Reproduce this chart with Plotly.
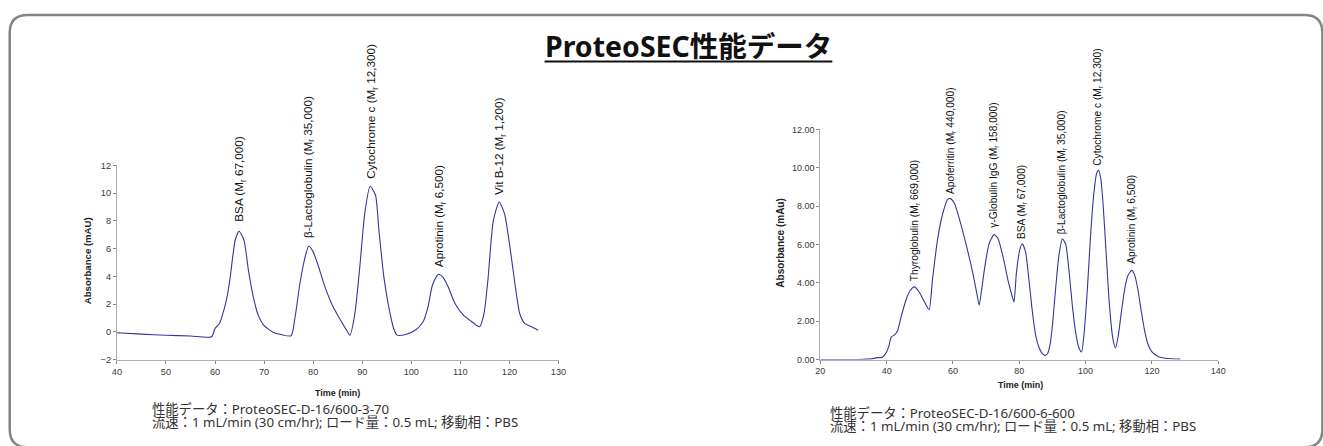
import plotly.graph_objects as go

W, H = 1323, 446

# ---------------- data ----------------
A_TIME = [40, 45, 50, 55, 59.3, 60.0, 60.9, 61.8, 62.5, 63.1, 64.1, 64.9, 65.9, 66.8, 67.8, 68.8, 69.9,
          71.9, 73.5, 75.5, 76.3, 77.3, 78.5, 79.1, 80.0, 81.0, 82.4, 83.9, 85.5, 86.8, 87.5, 88.5, 89.5,
          90.5, 91.6, 92.7, 93.4, 94.4, 95.4, 96.4, 97.1, 99.0, 101.0, 102.4, 103.4, 104.3, 105.5, 106.5,
          107.5, 108.9, 110.6, 111.9, 113.9, 114.8, 115.6, 116.7, 117.9, 119.0, 120.1, 121.1, 122.1,
          123.1, 124.5, 125.8]
A_ABS = [-0.07, -0.17, -0.25, -0.3, -0.36, 0.24, 0.6, 1.56, 2.6, 3.96, 6.6, 7.25, 6.6, 4.44, 2.5, 1.2, 0.48,
         -0.05, -0.2, -0.29, 1.03, 3.5, 5.6, 6.17, 5.76, 4.8, 3.24, 1.92, 0.89, 0.12, -0.24, 1.32, 4.68,
         8.5, 10.49, 9.84, 7.3, 3.96, 1.8, 0.24, -0.24, -0.17, 0.17, 0.72, 1.8, 3.36, 4.15, 3.9,
         3.24, 2.04, 1.2, 0.84, 0.36, 1.3, 3.7, 8.0, 9.36, 8.5, 6.1, 3.5, 1.3,
         0.6, 0.36, 0.12]

B_TIME = [20, 30, 33, 36, 37, 38.5, 39.6, 40.6, 41.4, 42.3, 43.3, 44.3, 46.0, 47.1, 48.4, 49.8, 51.3, 52.8,
          53.8, 55.3, 56.9, 58.4, 59.2, 60.4, 61.9, 63.9, 65.9, 67.2, 67.9,
          68.6, 69.6, 70.9, 72.4, 73.6, 75.1, 76.7, 77.9, 78.4,
          79.1, 80.1, 80.9, 81.9, 83.0, 84.0, 85.0, 86.0, 87.0, 87.8, 88.5, 89.3,
          90.0, 91.0, 92.0, 93.0, 94.0, 95.0, 96.0, 97.0, 98.0, 98.8,
          99.5, 100.5, 101.5, 102.5, 103.3, 103.9, 104.6, 105.3, 106.2, 107.2, 108.2, 109.0,
          109.8, 110.8, 111.8, 112.8, 113.9, 114.8, 115.8, 116.8, 117.8, 118.8, 120.0, 122.0, 124.0,
          126.0, 128.5]
B_ABS = [0.0, 0.0, 0.01, 0.05, 0.1, 0.1, 0.28, 0.66, 1.18, 1.27, 1.5, 2.19, 3.18, 3.6, 3.79, 3.52, 3.04, 2.6,
         4.13, 6.2, 7.6, 8.35, 8.39, 8.16, 7.35, 6.04, 4.57, 3.44, 2.83,
         3.6, 4.83, 6.04, 6.51, 6.3, 5.35, 4.05, 3.27, 3.0,
         4.48, 5.7, 6.04, 5.6, 4.0, 2.4, 1.2, 0.6, 0.3, 0.22, 0.3, 0.8,
         1.8, 3.8, 5.5, 6.3, 6.0, 4.6, 2.8, 1.4, 0.6, 0.4,
         1.3, 3.6, 6.5, 8.7, 9.7, 9.86, 9.4, 8.0, 5.5, 2.8, 1.1, 0.6,
         1.2, 2.5, 3.7, 4.4, 4.65, 4.4, 3.6, 2.5, 1.5, 0.8, 0.4, 0.15, 0.07,
         0.04, 0.02]

A_LABELS = ["BSA (M<sub>r</sub> 67,000)", "β-Lactoglobulin (M<sub>r</sub> 35,000)",
            "Cytochrome c (M<sub>r</sub> 12,300)", "Aprotinin (M<sub>r</sub> 6,500)",
            "Vit B-12 (M<sub>r</sub> 1,200)"]
A_LABEL_X = [65.0, 78.9, 91.9, 105.8, 118.1]
A_LABEL_Y = [7.8, 6.6, 10.9, 4.5, 9.7]

B_LABELS = ["Thyroglobulin (M<sub>r</sub> 669,000)", "Apoferritin (M<sub>r</sub> 440,000)",
            "γ-Globulin IgG (M<sub>r</sub> 158,000)", "BSA (M<sub>r</sub> 67,000)",
            "β-Lactoglobulin (M<sub>r</sub> 35,000)", "Cytochrome c (M<sub>r</sub> 12,300)",
            "Aprotinin (M<sub>r</sub> 6,500)"]
B_LABEL_X = [48.5, 59.4, 72.4, 80.95, 93.0, 103.9, 113.9]
B_LABEL_Y = [4.0, 8.55, 6.75, 6.2, 6.45, 10.0, 4.9]

A_XTICKS = [40, 50, 60, 70, 80, 90, 100, 110, 120, 130]
A_YTICKS = [-2, 0, 2, 4, 6, 8, 10, 12]
B_XTICKS = [20, 40, 60, 80, 100, 120, 140]
B_YTICKS = [0, 2, 4, 6, 8, 10, 12]

TITLE = "ProteoSEC性能データ"
A_NOTE = ["性能データ：ProteoSEC-D-16/600-3-70", "流速：1 mL/min (30 cm/hr); ロード量：0.5 mL; 移動相：PBS"]
B_NOTE = ["性能データ：ProteoSEC-D-16/600-6-600", "流速：1 mL/min (30 cm/hr); ロード量：0.5 mL; 移動相：PBS"]

# ---------------- helpers ----------------
# the photographed page is slightly rescaled/offset; compensate so that
# target pixel positions land where intended
SX, OX = 0.991, 5.0
SY, OY = 0.978, 4.6


def px(x):
    return ((x - OX) / SX) / W


def py(y):
    return 1 - ((y - OY) / SY) / H


LINE_COLOR = "#35359c"
AX_COLOR = "#b0b0b0"
SANS = "Liberation Sans, Arial, sans-serif"
JP = "Noto Sans, Noto Sans CJK JP, sans-serif"

fig = go.Figure()
fig.add_trace(go.Scatter(x=A_TIME, y=A_ABS, mode="lines", xaxis="x", yaxis="y",
                         line=dict(color=LINE_COLOR, width=1.1, shape="spline", smoothing=0.6),
                         hoverinfo="skip", showlegend=False))
fig.add_trace(go.Scatter(x=B_TIME, y=B_ABS, mode="lines", xaxis="x2", yaxis="y2",
                         line=dict(color=LINE_COLOR, width=1.1, shape="spline", smoothing=0.6),
                         hoverinfo="skip", showlegend=False))

axis_common = dict(showgrid=False, zeroline=False, showline=True, linecolor=AX_COLOR, linewidth=1,
                   ticks="outside", ticklen=3, tickcolor="#888888", fixedrange=True)

fig.update_layout(
    width=W, height=H,
    margin=dict(l=0, r=0, t=0, b=0),
    paper_bgcolor="white", plot_bgcolor="white",
    xaxis=dict(domain=[px(117), px(559)], range=[40, 130], tickvals=A_XTICKS, anchor="y",
               tickfont=dict(family=SANS, size=9.2, color="#3a3a3a"), **axis_common),
    yaxis=dict(domain=[py(359.3), py(165)], range=[-2, 12], tickvals=A_YTICKS, anchor="x",
               tickfont=dict(family=SANS, size=9.2, color="#3a3a3a"), **axis_common),
    xaxis2=dict(domain=[px(821), px(1219.3)], range=[20, 140], tickvals=B_XTICKS, anchor="y2",
                tickfont=dict(family=SANS, size=9, color="#3a3a3a"), **axis_common),
    yaxis2=dict(domain=[py(359.3), py(129)], range=[0, 12], tickvals=B_YTICKS, tickformat=".2f",
                anchor="x2", tickfont=dict(family=SANS, size=9, color="#3a3a3a"), **axis_common),
)

ann = []
for t, x, y in zip(A_LABELS, A_LABEL_X, A_LABEL_Y):
    ann.append(dict(text=t, x=x, y=y, xref="x", yref="y", textangle=-90, showarrow=False,
                    xanchor="center", yanchor="bottom",
                    font=dict(family=SANS, size=11.7, color="#111111")))
for t, x, y in zip(B_LABELS, B_LABEL_X, B_LABEL_Y):
    ann.append(dict(text=t, x=x, y=y, xref="x2", yref="y2", textangle=-90, showarrow=False,
                    xanchor="center", yanchor="bottom",
                    font=dict(family=SANS, size=10.2, color="#111111")))

# axis titles
ann.append(dict(text="<b>Absorbance (mAU)</b>", x=px(87), y=py(260), xref="paper", yref="paper",
                textangle=-90, showarrow=False, xanchor="center", yanchor="middle",
                font=dict(family=SANS, size=9.6, color="#222222")))
ann.append(dict(text="<b>Absorbance (mAu)</b>", x=px(781), y=py(243), xref="paper", yref="paper",
                textangle=-90, showarrow=False, xanchor="center", yanchor="middle",
                font=dict(family=SANS, size=10, color="#222222")))
ann.append(dict(text="<b>Time (min)</b>", x=px(338), y=py(393), xref="paper", yref="paper",
                showarrow=False, xanchor="center", yanchor="middle",
                font=dict(family=SANS, size=9, color="#222222")))
ann.append(dict(text="<b>Time (min)</b>", x=px(1021), y=py(385), xref="paper", yref="paper",
                showarrow=False, xanchor="center", yanchor="middle",
                font=dict(family=SANS, size=9, color="#222222")))

# title
ann.append(dict(text="<b>" + TITLE + "</b>", x=px(689), y=py(46), xref="paper", yref="paper",
                showarrow=False, xanchor="center", yanchor="middle",
                font=dict(family=JP, size=28.5, color="#111111")))

# footnotes: one text block each; the block font size sets the tight line pitch
def note_text(lines):
    return "<br>".join(f'<span style="font-size:13.3px">{s}</span>' for s in lines)


ann.append(dict(text=note_text(A_NOTE), x=px(150), y=py(415.5), xref="paper", yref="paper",
                showarrow=False, xanchor="left", yanchor="middle", align="left",
                font=dict(family=JP, size=10, color="#333333")))
ann.append(dict(text=note_text(B_NOTE), x=px(829), y=py(419), xref="paper", yref="paper",
                showarrow=False, xanchor="left", yanchor="middle", align="left",
                font=dict(family=JP, size=10, color="#333333")))

fig.update_layout(annotations=ann)

# rounded frame
x0, x1, y0, y1, r = 9.7, 1323.5, 14.5, 447, 18
X0, X1, YT, YB = px(x0), px(x1), py(y0), py(y1)
rx = px(x0 + r) - X0
ry = py(y0) - py(y0 + r)
path = (f"M {X0+rx},{YB} L {X1-rx},{YB} Q {X1},{YB} {X1},{YB+ry} "
        f"L {X1},{YT-ry} Q {X1},{YT} {X1-rx},{YT} L {X0+rx},{YT} Q {X0},{YT} {X0},{YT-ry} "
        f"L {X0},{YB+ry} Q {X0},{YB} {X0+rx},{YB} Z")
shapes = [dict(type="path", path=path, xref="paper", yref="paper",
               line=dict(color="#858585", width=2.5), layer="below")]
# title underline
shapes.append(dict(type="line", xref="paper", yref="paper", x0=px(545), x1=px(833), y0=py(61), y1=py(61),
                   line=dict(color="#111111", width=2)))
fig.update_layout(shapes=shapes)

fig.write_html("out.html", config={"displayModeBar": False, "staticPlot": True},
               post_script="document.body.style.margin='0';document.body.style.overflow='hidden';")
